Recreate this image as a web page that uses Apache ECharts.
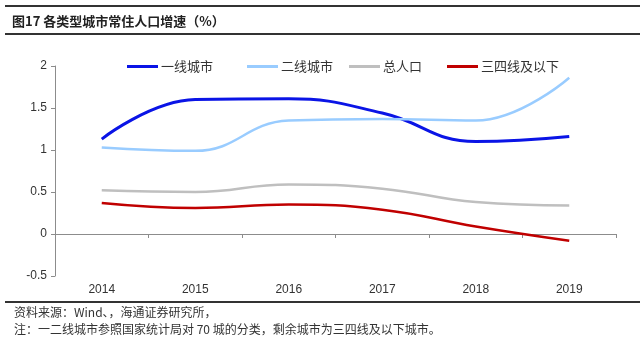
<!DOCTYPE html>
<html>
<head>
<meta charset="utf-8">
<script src="https://cdn.jsdelivr.net/npm/echarts@6/dist/echarts.min.js"></script>
<style>
  html, body { margin: 0; padding: 0; background: #fff; }
  #myChart { width: 640px; height: 354px; }
</style>
</head>
<body>
<div id="myChart"></div>
<script>
// 年份
var years = ["2014", "2015", "2016", "2017", "2018", "2019"];
// 各类城市常住人口增速（%）
var tier1 = [1.13, 1.60, 1.61, 1.44, 1.10, 1.16];
var tier2 = [1.03, 0.99, 1.35, 1.37, 1.35, 1.86];
var totalPop = [0.52, 0.50, 0.59, 0.54, 0.38, 0.34];
var tier34 = [0.37, 0.31, 0.35, 0.29, 0.09, -0.08];
var names = ["一线城市", "二线城市", "总人口", "三四线及以下"];
var colors = ["#0A14E6", "#99CCFF", "#BFBFBF", "#C00000"];

var myChart = echarts.init(document.getElementById("myChart"));
var font = "Arial, 'Liberation Sans', 'Noto Sans CJK SC', sans-serif";
var cjk = "'Noto Sans CJK SC', sans-serif";

function makeSeries(i, data, w) {
  return {
    name: names[i],
    type: "line",
    smooth: 0.45,
    symbol: "none",
    data: data,
    lineStyle: { color: colors[i], width: w },
    itemStyle: { color: colors[i] }
  };
}

function makeLegend(name, left) {
  return {
    data: [name],
    left: left,
    top: 55,
    icon: "rect",
    itemWidth: 31,
    itemHeight: 3,
    itemGap: 0,
    textStyle: { fontFamily: cjk, fontSize: 13, color: "#333", padding: [0, 0, 0, -2] }
  };
}

myChart.setOption({
  animation: false,
  title: {
    text: "图17 各类型城市常住人口增速（%）",
    left: 7,
    top: 10,
    textStyle: { fontFamily: cjk, fontSize: 13, fontWeight: "bold", color: "#222" }
  },
  legend: [
    makeLegend(names[0], 122),
    makeLegend(names[1], 242),
    makeLegend(names[2], 344),
    makeLegend(names[3], 442)
  ],
  grid: { left: 55, right: 24, top: 66, bottom: 78, containLabel: false },
  xAxis: [
    {
      type: "category",
      data: years,
      position: "bottom",
      boundaryGap: true,
      axisLine: { show: false, onZero: false },
      axisTick: { show: false },
      axisLabel: { fontFamily: font, fontSize: 12, color: "#333", margin: 8 }
    },
    {
      type: "category",
      data: years,
      position: "bottom",
      boundaryGap: true,
      axisLine: { show: true, onZero: true, lineStyle: { color: "#8c8c8c", width: 1 } },
      axisTick: { show: true, length: 4, lineStyle: { color: "#8c8c8c" } },
      axisLabel: { show: false }
    }
  ],
  yAxis: {
    type: "value",
    min: -0.5,
    max: 2,
    interval: 0.5,
    axisLine: { show: true, lineStyle: { color: "#8c8c8c", width: 1 } },
    axisTick: { show: true, length: 4, lineStyle: { color: "#8c8c8c" } },
    splitLine: { show: false },
    axisLabel: { fontFamily: font, fontSize: 12, color: "#333", margin: 8 }
  },
  graphic: [
    { type: "rect", shape: { x: 5, y: 5, width: 635, height: 2 }, style: { fill: "#333" } },
    { type: "rect", shape: { x: 5, y: 33, width: 635, height: 2 }, style: { fill: "#333" } },
    { type: "rect", shape: { x: 5, y: 301, width: 635, height: 2 }, style: { fill: "#333" } },
    {
      type: "text", left: 14, top: 306,
      style: { text: "资料来源：Wind、，海通证券研究所，", font: "12px " + cjk, fill: "#333" }
    },
    {
      type: "text", left: 14, top: 323,
      style: { text: "注：一二线城市参照国家统计局对 70 城的分类，剩余城市为三四线及以下城市。", font: "12px " + cjk, fill: "#333" }
    }
  ],
  series: [
    makeSeries(0, tier1, 3),
    makeSeries(1, tier2, 2.5),
    makeSeries(2, totalPop, 2.5),
    makeSeries(3, tier34, 2.5)
  ]
});
</script>
</body>
</html>
